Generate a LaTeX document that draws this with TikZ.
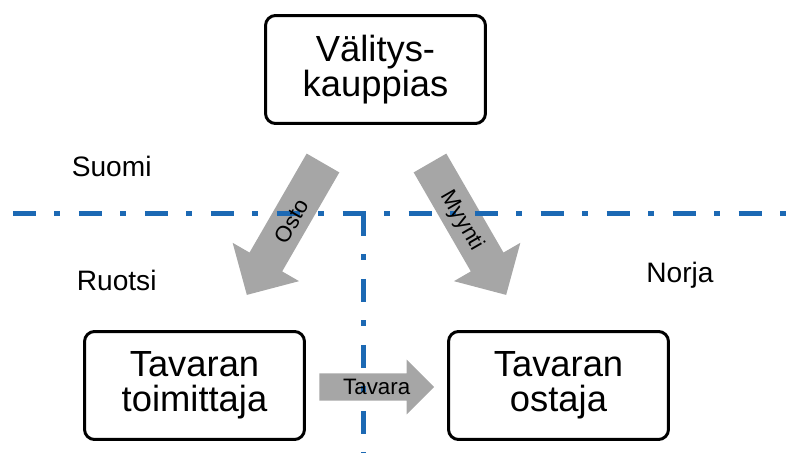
\documentclass[tikz,border=0pt]{standalone}
\usepackage{fontspec}
\setmainfont{Liberation Sans}

\definecolor{borderblue}{RGB}{28,105,180}
\definecolor{arrowgray}{RGB}{166,166,166}

% fat gray arrow: tail x, tail y, angle, length, shaft width, head width, head length
\newcommand{\fatarrow}[7]{%
  \fill[arrowgray, shift={(#1,#2)}, rotate=#3]
    (0,-#5/2) -- (#4-#7,-#5/2) -- (#4-#7,-#6/2) -- (#4,0)
    -- (#4-#7,#6/2) -- (#4-#7,#5/2) -- (0,#5/2) -- cycle;}

\begin{document}
\begin{tikzpicture}[x=0.02cm, y=-0.02cm,
    party/.style ={draw, line width=1.7pt, rounded corners=0.2cm,
      minimum width=4.4cm, minimum height=2.16cm, align=center,
      font=\fontsize{20.7}{20}\selectfont},
    country/.style ={anchor=base, font=\fontsize{16}{19}\selectfont},
    flowlabel/.style ={font=\fontsize{12.7}{15}\selectfont},
    border/.style ={draw=borderblue, line width=0.1cm,
      dash pattern=on 0.46cm off 0.37cm on 0.12cm off 0.37cm}]
   \useasboundingbox (0,0) rectangle (796,453);

   \fatarrow{323}{163}{240}{152.3}{37.7}{76.7}{38}
   \fatarrow{430}{163}{300}{152.3}{37.7}{76.7}{38}
   \fatarrow{319.3}{387}{0}{114.7}{27.4}{54.7}{27.3}

   \draw[border] (12.8,213) -- (790,213);
   \draw[border] (363,213) -- (363,453);

   \node[party] (V) at (375.5,69.5) {Välitys-\\kauppias};
   \node[party] (T) at (194.5,385.5) {Tavaran\\toimittaja};
   \node[party] (O) at (558.5,385.5) {Tavaran\\ostaja};

   \node[country] (S) at (111.7,176) {Suomi};
   \node[country] (R) at (116.7,290) {Ruotsi};
   \node[country] (N) at (680,282.3) {Norja};

   \node[flowlabel, rotate=60] (osto) at (291.5,221) {Osto};
   \node[flowlabel, rotate=-60] (myynti) at (461.7,220.8) {Myynti};
   \node[flowlabel, anchor=base] (tavara) at (376.7,394.5) {Tavara};
 \end{tikzpicture}
\end{document}
